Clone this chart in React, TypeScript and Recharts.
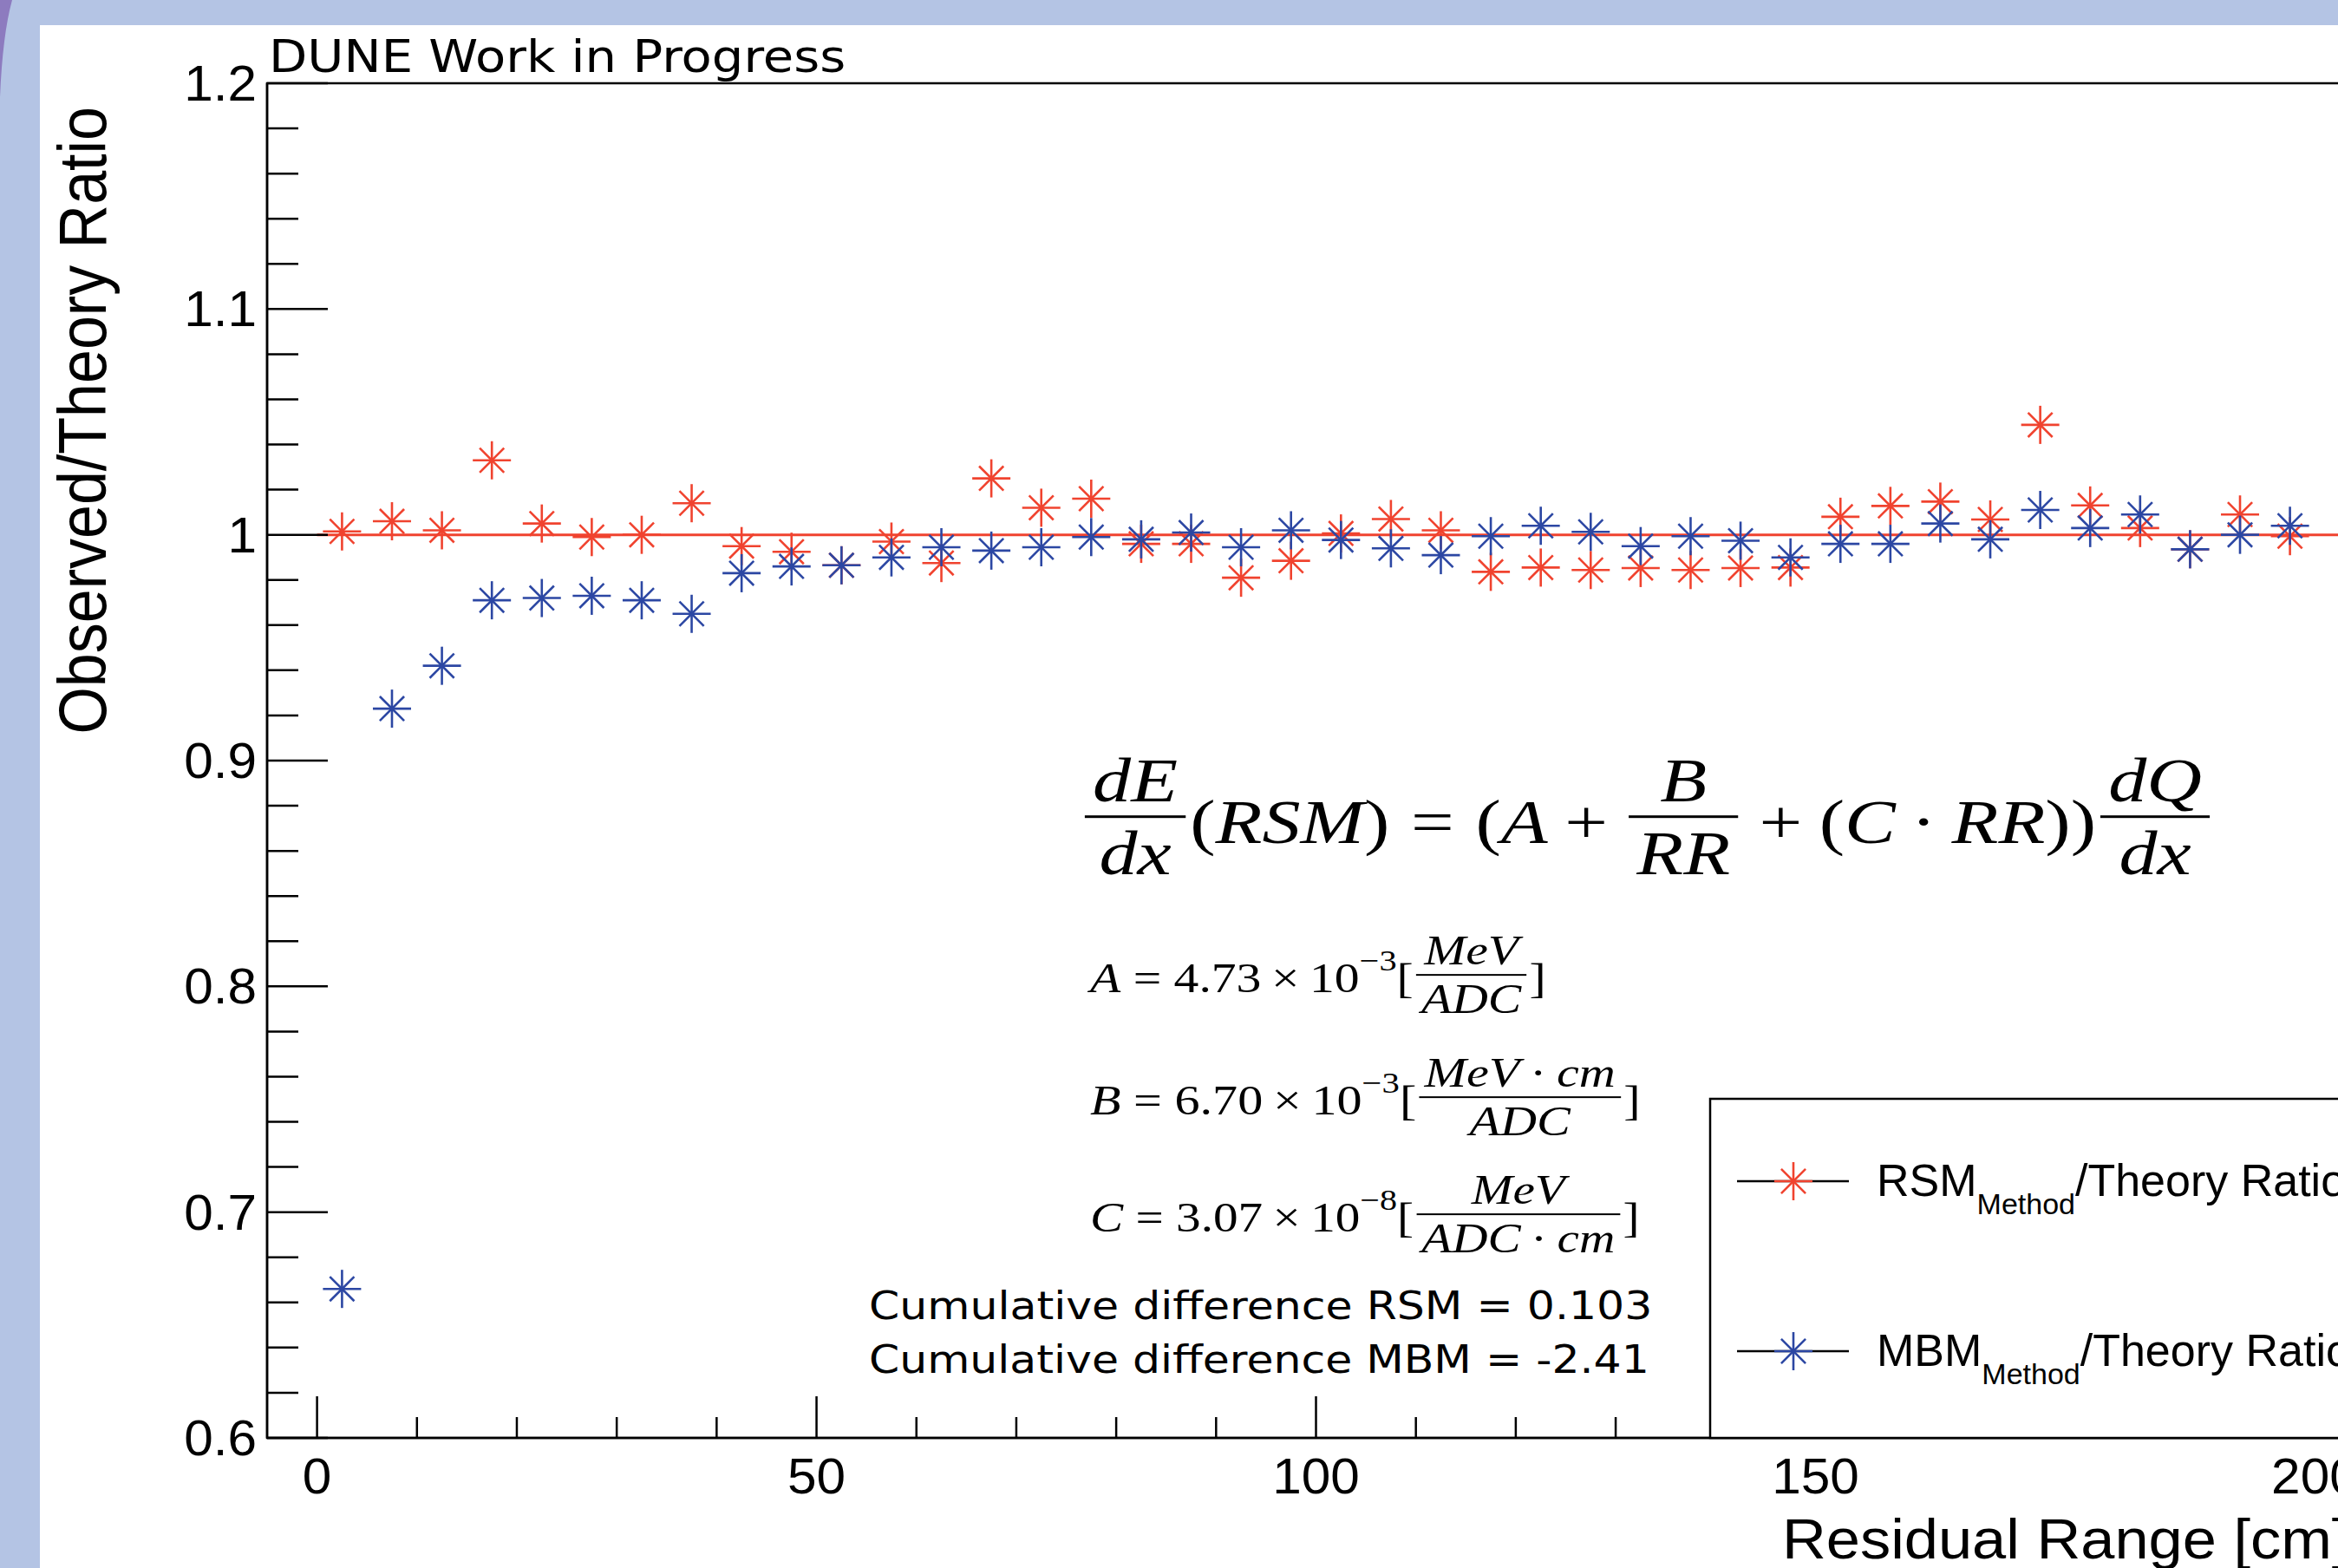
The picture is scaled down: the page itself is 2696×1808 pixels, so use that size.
import React, { useLayoutEffect, useRef, useState } from 'react';
import { ScatterChart, Scatter, XAxis, YAxis, ReferenceLine, ReferenceArea } from 'recharts';

// bin centres of residual range [cm]
const residualRange = [
  2.5, 7.5, 12.5, 17.5, 22.5, 27.5, 32.5, 37.5, 42.5, 47.5,
  52.5, 57.5, 62.5, 67.5, 72.5, 77.5, 82.5, 87.5, 92.5, 97.5,
  102.5, 107.5, 112.5, 117.5, 122.5, 127.5, 132.5, 137.5, 142.5, 147.5,
  152.5, 157.5, 162.5, 167.5, 172.5, 177.5, 182.5, 187.5, 192.5, 197.5,
];

const rsmRatio = [
  1.0015, 1.006, 1.002, 1.033, 1.005, 0.999, 1.0, 1.014, 0.995, 0.9925,
  0.9865, 0.997, 0.9875, 1.025, 1.012, 1.016, 0.996, 0.996, 0.981, 0.9885,
  1.0006, 1.007, 1.002, 0.9836, 0.9855, 0.9844, 0.9853, 0.9844, 0.9853, 0.9855,
  1.008, 1.0128, 1.0147, 1.0068, 1.0487, 1.013, 1.003, 0.9936, 1.009, 0.9994,
];

const mbmRatio = [
  0.666, 0.923, 0.942, 0.971, 0.972, 0.973, 0.971, 0.965, 0.983, 0.986,
  0.9865, 0.99, 0.9945, 0.993, 0.9945, 0.999, 0.998, 1.001, 0.9945, 1.002,
  0.9977, 0.994, 0.991, 0.9994, 1.004, 1.0013, 0.995, 0.9994, 0.9974, 0.99,
  0.996, 0.996, 1.005, 0.998, 1.011, 1.003, 1.009, 0.9936, 1.0, 1.004,
];

const xTicks = [0, 10, 20, 30, 40, 50, 60, 70, 80, 90, 100, 110, 120, 130, 140, 150, 160, 170, 180, 190, 200];
const xMajorTicks = [0, 50, 100, 150, 200];
const yTicks = [
  0.6, 0.62, 0.64, 0.66, 0.68, 0.7, 0.72, 0.74, 0.76, 0.78,
  0.8, 0.82, 0.84, 0.86, 0.88, 0.9, 0.92, 0.94, 0.96, 0.98,
  1.0, 1.02, 1.04, 1.06, 1.08, 1.1, 1.12, 1.14, 1.16, 1.18, 1.2,
];
const yMajorTicks = [0.6, 0.7, 0.8, 0.9, 1.0, 1.1, 1.2];

const RED = '#f0432f';
const BLUE = '#2c47a3';
const SANS = '"Liberation Sans", Arial, sans-serif';
const DEJAVU = '"DejaVu Sans", sans-serif';
const SERIF = '"Liberation Serif", "Times New Roman", serif';
const TICK_FONT = 58;
const TICK_STRETCH = 1.04;

const rsmData = residualRange.map((x, i) => ({ x, y: rsmRatio[i] }));
const mbmData = residualRange.map((x, i) => ({ x, y: mbmRatio[i] }));

const Asterisk = ({ cx, cy, color, r = 22 }: { cx: number; cy: number; color: string; r?: number }) => {
  const d = r * 0.64;
  return (
    <g stroke={color} strokeWidth={2.6}>
      <line x1={cx - r} y1={cy} x2={cx + r} y2={cy} />
      <line x1={cx} y1={cy - r} x2={cx} y2={cy + r} />
      <line x1={cx - d} y1={cy - d} x2={cx + d} y2={cy + d} />
      <line x1={cx - d} y1={cy + d} x2={cx + d} y2={cy - d} />
    </g>
  );
};

const XTick = (props: any) => {
  const { x, y, payload } = props;
  const v = payload.value;
  const major = xMajorTicks.includes(v);
  return (
    <g>
      <line x1={x} x2={x} y1={y} y2={y - (major ? 48 : 24)} stroke="#000" strokeWidth={2.5} />
      {major && (
        <text transform={`translate(${x},${y + 44}) scale(${TICK_STRETCH},1)`} textAnchor="middle"
          dominantBaseline="central" fontFamily={SANS} fontSize={TICK_FONT} fill="#000">
          {v}
        </text>
      )}
    </g>
  );
};

const YTick = (props: any) => {
  const { x, y, payload } = props;
  const v = payload.value;
  const major = yMajorTicks.some((m) => Math.abs(m - v) < 1e-6);
  return (
    <g>
      <line x1={x} x2={x + (major ? 70 : 36)} y1={y} y2={y} stroke="#000" strokeWidth={2.5} />
      {major && (
        <text transform={`translate(${x - 12},${y}) scale(${TICK_STRETCH},1)`} textAnchor="end"
          dominantBaseline="central" fontFamily={SANS} fontSize={TICK_FONT} fill="#000">
          {Math.abs(v - 1) < 1e-6 ? '1' : v.toFixed(1)}
        </text>
      )}
    </g>
  );
};

// text run, nudged down so the fraction bars sit on the math axis
const T = ({ children }: { children: React.ReactNode }) => (
  <span style={{ position: 'relative', top: '0.09em' }}>{children}</span>
);

const Frac = ({ num, den, bar = 3 }: { num: React.ReactNode; den: React.ReactNode; bar?: number }) => (
  <span style={{ display: 'inline-flex', flexDirection: 'column', alignItems: 'center', margin: '0 0.06em' }}>
    <span style={{ padding: '0 0.1em 0.06em' }}>{num}</span>
    <span style={{ alignSelf: 'stretch', borderTop: `${bar}px solid #000` }} />
    <span style={{ padding: '0.06em 0.1em 0' }}>{den}</span>
  </span>
);

const Sup = ({ children }: { children: React.ReactNode }) => (
  <span style={{ fontSize: '0.7em', position: 'relative', top: '-0.75em' }}>{children}</span>
);

const Op = ({ children, gap = 0.25 }: { children: React.ReactNode; gap?: number }) => (
  <span style={{ margin: `0 ${gap}em` }}>{children}</span>
);

// a line of text squeezed or stretched to the width it has in the reference
const FitLine = ({ left, width, midY, fontSize, family, children }: {
  left: number; width: number; midY: number; fontSize: number; family: string; children: React.ReactNode;
}) => {
  const ref = useRef<HTMLDivElement>(null);
  const [sx, setSx] = useState(1);
  useLayoutEffect(() => {
    if (ref.current) setSx(width / ref.current.offsetWidth);
  }, [width]);
  return (
    <div ref={ref} style={{
      position: 'absolute', left, top: midY, width: 'max-content', display: 'flex', alignItems: 'center',
      whiteSpace: 'nowrap', fontSize, fontFamily: family, lineHeight: 1, color: '#000',
      transform: `translateY(-50%) scaleX(${sx})`, transformOrigin: '0 50%',
    }}>
      {children}
    </div>
  );
};

const LegendEntry = ({ y, color, label }: { y: number; color: string; label: string }) => (
  <g>
    <line x1={2003} x2={2132} y1={y} y2={y} stroke="#000" strokeWidth={2.5} />
    <Asterisk cx={2068} cy={y} color={color} />
    <text x={2164} y={y + 17} fontFamily={SANS} fontSize={52} fill="#000">
      {label}
      <tspan fontSize={34} dy={21}>Method</tspan>
      <tspan fontSize={52} dy={-21}>/Theory Ratio</tspan>
    </text>
  </g>
);

export default function App() {
  return (
    <div style={{ position: 'absolute', left: 0, top: 0, width: 2696, height: 1808, overflow: 'hidden', background: '#b4c4e4' }}>
      <svg width={40} height={140} style={{ position: 'absolute', left: 0, top: 0 }}>
        <path d="M0 0 L14 0 Q3 40 0 112 Z" fill="#8d7bbf" />
      </svg>
      <div style={{ position: 'absolute', left: 46, top: 29, width: 2696 - 46, height: 1808 - 29, background: '#fff' }} />

      <div style={{ position: 'absolute', left: 0, top: 0 }}>
        <ScatterChart width={2760} height={1808} margin={{ top: 96, right: 33, left: 0, bottom: 0 }}>
          <XAxis type="number" dataKey="x" domain={[-5, 205]} ticks={xTicks} interval={0}
            tick={<XTick />} tickLine={false} tickSize={0} tickMargin={0} height={150}
            axisLine={{ stroke: '#000', strokeWidth: 2.5 }} allowDataOverflow />
          <YAxis type="number" dataKey="y" domain={[0.6, 1.2]} ticks={yTicks} interval={0}
            tick={<YTick />} tickLine={false} tickSize={0} tickMargin={0} width={308}
            axisLine={{ stroke: '#000', strokeWidth: 2.5 }} allowDataOverflow />
          <ReferenceArea x1={-5} x2={205} y1={0.6} y2={1.2} fill="none" fillOpacity={0} stroke="#000" strokeWidth={2.5} />
          <ReferenceLine segment={[{ x: 0, y: 1 }, { x: 205, y: 1 }]} stroke={RED} strokeWidth={3} />
          <Scatter name="RSM" data={rsmData} isAnimationActive={false}
            shape={(p: any) => <Asterisk cx={p.cx} cy={p.cy} color={RED} />} />
          <Scatter name="MBM" data={mbmData} isAnimationActive={false}
            shape={(p: any) => <Asterisk cx={p.cx} cy={p.cy} color={BLUE} />} />
        </ScatterChart>
      </div>

      <svg width={2696} height={1808} style={{ position: 'absolute', left: 0, top: 0, pointerEvents: 'none' }}>
        <text transform={`translate(310,83) scale(1.13,1)`} fontFamily={DEJAVU} fontSize={51} fill="#000">
          DUNE Work in Progress
        </text>
        <text transform={`translate(122,123) rotate(-90) scale(1,1.1)`} textAnchor="end" fontFamily={SANS} fontSize={70} fill="#000">
          Observed/Theory Ratio
        </text>
        <text transform={`translate(2055,1797) scale(1.1,1)`} fontFamily={SANS} fontSize={64} fill="#000">
          Residual Range [cm]
        </text>
        <rect x={1972} y={1267} width={2727 - 1972} height={1658 - 1267} fill="#fff" stroke="#000" strokeWidth={2.5} />
        <LegendEntry y={1362} color={RED} label="RSM" />
        <LegendEntry y={1558} color={BLUE} label="MBM" />
      </svg>

      <FitLine left={1246} width={1307} midY={942} fontSize={72} family={SERIF}>
        <Frac num={<i>dE</i>} den={<i>dx</i>} />
        <T>(<i>RSM</i>)<Op gap={0.28}>=</Op>(<i>A</i><Op gap={0.22}>+</Op></T>
        <Frac num={<i>B</i>} den={<i>RR</i>} />
        <T><Op gap={0.22}>+</Op>(<i>C</i><Op gap={0.2}>·</Op><i>RR</i>))</T>
        <Frac num={<i>dQ</i>} den={<i>dx</i>} />
      </FitLine>
      <FitLine left={1257} width={526} midY={1124} fontSize={48} family={SERIF}>
        <T><i>A</i><Op>=</Op>4.73<Op gap={0.2}>×</Op>10<Sup>−3</Sup>[</T>
        <Frac num={<i>MeV</i>} den={<i>ADC</i>} bar={2} />
        <T>]</T>
      </FitLine>
      <FitLine left={1257} width={634} midY={1265} fontSize={48} family={SERIF}>
        <T><i>B</i><Op>=</Op>6.70<Op gap={0.2}>×</Op>10<Sup>−3</Sup>[</T>
        <Frac num={<span><i>MeV</i><Op gap={0.2}>·</Op><i>cm</i></span>} den={<i>ADC</i>} bar={2} />
        <T>]</T>
      </FitLine>
      <FitLine left={1257} width={634} midY={1400} fontSize={48} family={SERIF}>
        <T><i>C</i><Op>=</Op>3.07<Op gap={0.2}>×</Op>10<Sup>−8</Sup>[</T>
        <Frac num={<i>MeV</i>} den={<span><i>ADC</i><Op gap={0.2}>·</Op><i>cm</i></span>} bar={2} />
        <T>]</T>
      </FitLine>
      <FitLine left={1002} width={903} midY={1506} fontSize={44} family={DEJAVU}>
        <span>Cumulative difference RSM = 0.103</span>
      </FitLine>
      <FitLine left={1002} width={900} midY={1568} fontSize={44} family={DEJAVU}>
        <span>Cumulative difference MBM = -2.41</span>
      </FitLine>
    </div>
  );
}
